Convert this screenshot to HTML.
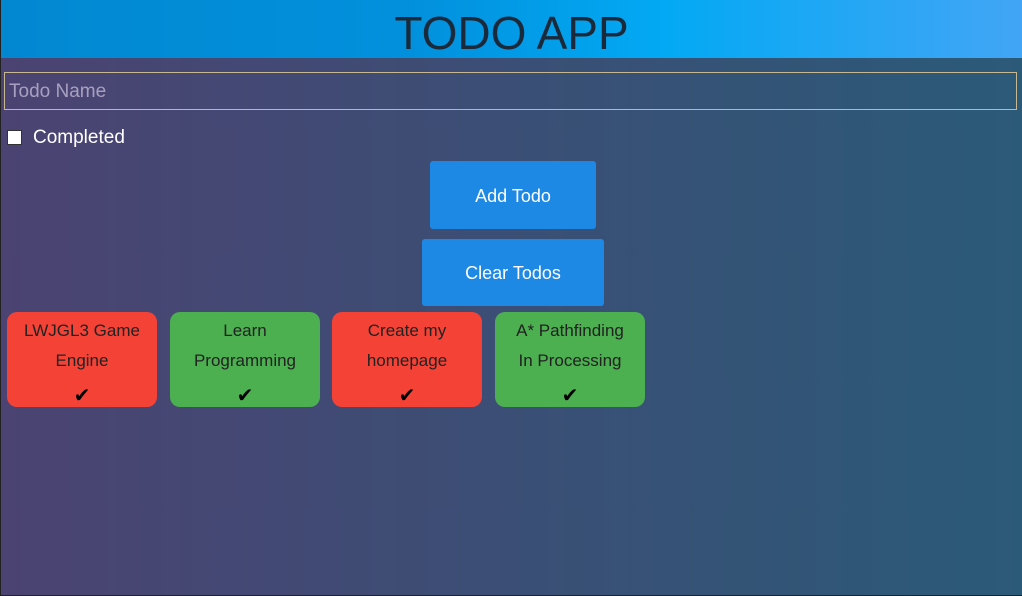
<!DOCTYPE html>
<html><head><style>
*{margin:0;padding:0;box-sizing:border-box}
body{width:1022px;height:596px;overflow:hidden;font-family:"Liberation Sans",sans-serif;background:#222}
#app{position:absolute;left:0;top:0;width:1022px;height:595px;background:linear-gradient(90deg,#4b4372,#2b5a78)}
#lb{position:absolute;left:0;top:0;width:1px;height:596px;background:#222}
#hdr{position:absolute;left:1px;top:0;width:1021px;height:58px;background:linear-gradient(90deg,#0288d1 0%,#0290dc 40%,#03a9f4 65%,#42a5f5 100%);text-align:center;font-size:46px;line-height:66px;color:#1a2a3a}
#inp{position:absolute;left:4px;top:72px;width:1013px;height:38px;border:1px solid #c8b890;color:#a8a0c0;font-size:19px;line-height:38px;padding-left:4px}
#cb{position:absolute;left:7px;top:130px;width:15px;height:15px;background:#fff;border:1px solid #333}
#cl{position:absolute;left:33px;top:127px;color:#fff;font-size:19px}
.btn{position:absolute;background:#1e88e5;border-radius:3px;color:#fff;font-size:18px;text-align:center}
.card{position:absolute;top:312px;width:150px;height:95px;border-radius:10px;text-align:center;color:#222;font-size:17px;line-height:30px;padding-top:4px}
.r{background:#f44336}.g{background:#4caf50}
.ck{position:absolute;left:0;right:0;top:74px;font-size:20px;line-height:20px;color:#000}
</style></head><body>
<div id="app">
<div id="hdr">TODO APP</div>
<div id="inp">Todo Name</div>
<div id="cb"></div><div id="cl">Completed</div>
<div class="btn" style="left:430px;top:161px;width:166px;height:68px;line-height:70px">Add Todo</div>
<div class="btn" style="left:422px;top:239px;width:182px;height:67px;line-height:69px">Clear Todos</div>
<div class="card r" style="left:7px">LWJGL3 Game<br>Engine<div class="ck">✔</div></div>
<div class="card g" style="left:170px">Learn<br>Programming<div class="ck">✔</div></div>
<div class="card r" style="left:332px">Create my<br>homepage<div class="ck">✔</div></div>
<div class="card g" style="left:495px">A* Pathfinding<br>In Processing<div class="ck">✔</div></div>
</div>
<div id="lb"></div>
</body></html>
